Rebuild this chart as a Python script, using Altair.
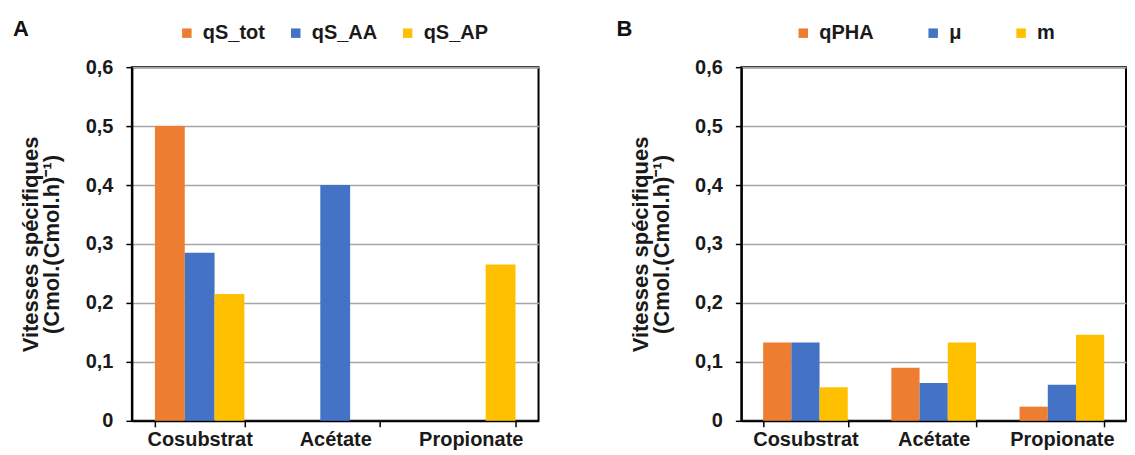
import altair as alt
import pandas as pd

categories = ["Cosubstrat", "Acétate", "Propionate"]

series_a = ["qS_tot", "qS_AA", "qS_AP"]
qs_tot = [0.50, 0.0, 0.0]
qs_aa = [0.285, 0.40, 0.0]
qs_ap = [0.215, 0.0, 0.265]

series_b = ["qPHA", "μ", "m"]
q_pha = [0.133, 0.090, 0.024]
mu = [0.133, 0.064, 0.061]
m_vals = [0.057, 0.133, 0.146]

colors = ["#ED7D31", "#4472C4", "#FFC000"]
y_ticks = [0, 0.1, 0.2, 0.3, 0.4, 0.5, 0.6]
y_title = ["Vitesses spécifiques", "(Cmol.(Cmol.h)⁻¹)"]

FONT = "Liberation Sans"


def long_table(series, arrays):
    rows = []
    for s, vals in zip(series, arrays):
        for c, v in zip(categories, vals):
            rows.append({"cat": c, "series": s, "value": v})
    return pd.DataFrame(rows)


def panel(df, series, letter, width, legend_x, col_pad, title_dx):
    return alt.Chart(df).mark_bar().encode(
        x=alt.X(
            "cat:N",
            sort=categories,
            scale=alt.Scale(paddingInner=0.34, paddingOuter=0.17),
            axis=alt.Axis(
                title=None,
                labelAngle=0,
                tickBand="extent",
                tickSize=6,
                tickWidth=1.5,
                tickColor="black",
                domainColor="black",
                domainWidth=2,
                labelFontSize=20,
                labelFontWeight="bold",
                labelColor="#1a1a1a",
                labelPadding=3,
                grid=False,
            ),
        ),
        xOffset=alt.XOffset(
            "series:N", sort=series,
            scale=alt.Scale(domain=series, paddingInner=0, paddingOuter=0),
        ),
        y=alt.Y(
            "value:Q",
            scale=alt.Scale(domain=[0, 0.6], nice=False),
            axis=alt.Axis(
                title=y_title,
                values=y_ticks,
                labelExpr="datum.value == 0 ? '0' : replace(format(datum.value, '.1f'), '.', ',')",
                labelFontSize=20,
                labelFontWeight="bold",
                labelColor="#1a1a1a",
                labelPadding=13,
                tickSize=6,
                tickWidth=1.5,
                tickColor="black",
                domainColor="black",
                domainWidth=2,
                gridColor="#a6a6a6",
                gridWidth=1.5,
                titleFontSize=22,
                titleFontWeight="bold",
                titleColor="#1a1a1a",
                titlePadding=20,
                minExtent=48,
                maxExtent=48,
                titleLineHeight=21,
            ),
        ),
        color=alt.Color(
            "series:N",
            sort=series,
            scale=alt.Scale(domain=series, range=colors),
            legend=alt.Legend(
                title=None,
                orient="none",
                direction="horizontal",
                legendX=legend_x,
                legendY=-44,
                symbolType="square",
                symbolSize=90,
                symbolStrokeWidth=0,
                labelFontSize=20,
                labelFontWeight="bold",
                labelColor="#1a1a1a",
                labelOffset=6,
                columnPadding=col_pad,
            ),
        ),
    ).properties(
        width=width,
        height=354,
        title=alt.TitleParams(
            text=letter,
            anchor="start",
            frame="group",
            fontSize=22,
            fontWeight="bold",
            color="#111",
            dx=title_dx,
            offset=-18,
        ),
    )


df_a = long_table(series_a, [qs_tot, qs_aa, qs_ap])
df_b = long_table(series_b, [q_pha, mu, m_vals])

chart_a = panel(df_a, series_a, "A", 407, 45, 20, -119)
chart_b = panel(df_b, series_b, "B", 385, 52, 49, -125)

chart = alt.hconcat(chart_a, chart_b, spacing=76).resolve_scale(
    color="independent", x="independent", xOffset="independent"
).configure(
    font=FONT,
    padding={"left": 4, "top": 9, "right": 0, "bottom": 0},
).configure_view(
    stroke="black", strokeWidth=2
)

chart.save("out.html", embed_options={"renderer": "svg", "actions": False})
